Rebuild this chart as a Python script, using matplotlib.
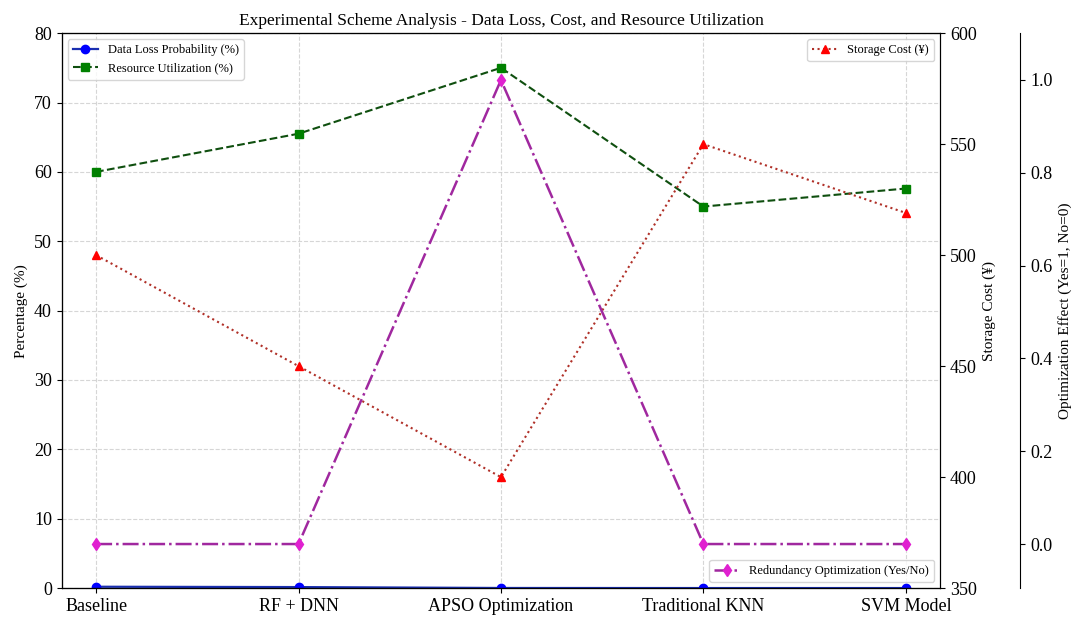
import numpy as np
import matplotlib
matplotlib.use("Agg")
import matplotlib.pyplot as plt

plt.rcParams['font.family'] = ['Liberation Serif', 'DejaVu Serif']

schemes = ['Baseline', 'RF + DNN', 'APSO Optimization', 'Traditional KNN', 'SVM Model']
data_loss = [0.2, 0.15, 0.02, 0.01, 0.01]
resource_util = [60, 65.5, 75, 55, 57.6]
storage_cost = [500, 450, 400, 550, 519]
redundancy = [0, 0, 1, 0, 0]

x = np.arange(len(schemes))

fig = plt.figure(figsize=(10.82, 6.25), dpi=100)
ax1 = fig.add_axes([0.057, 0.059, 0.812, 0.888])

ax1.plot(x, data_loss, 'o-', color='#1a2fb0', markerfacecolor='blue',
         markeredgecolor='blue', markersize=6, linewidth=1.6, label='Data Loss Probability (%)')
ax1.plot(x, resource_util, 's--', color='#0f4f0f', markerfacecolor='green',
         markeredgecolor='green', markersize=6, linewidth=1.5, label='Resource Utilization (%)')
ax1.set_ylim(0, 80)
ax1.set_xlim(-0.17, 4.17)
ax1.set_ylabel('Percentage (%)', fontsize=11)
ax1.set_xticks(x)
ax1.set_xticklabels(schemes, fontsize=13)
ax1.tick_params(axis='y', labelsize=13)
ax1.grid(True, linestyle='--', color='#cccccc', alpha=0.8)
ax1.legend(loc='upper left', fontsize=9)
ax1.set_title('Experimental Scheme Analysis - Data Loss, Cost, and Resource Utilization', fontsize=12.5)

ax2 = ax1.twinx()
ax2.plot(x, storage_cost, '^:', color='#b03028', markerfacecolor='red',
         markeredgecolor='red', markersize=6, linewidth=1.5, label='Storage Cost (¥)')
ax2.set_ylim(350, 600)
ax2.set_ylabel('Storage Cost (¥)', fontsize=11)
ax2.tick_params(axis='y', labelsize=13)
ax2.legend(loc='upper right', fontsize=9)

ax3 = ax1.twinx()
ax3.spines['right'].set_position(('axes', 1.091))
ax3.plot(x, redundancy, 'd-.', color='#a0289f', markerfacecolor='#e020d0',
         markeredgecolor='#e020d0', markersize=6, linewidth=1.8,
         label='Redundancy Optimization (Yes/No)')
ax3.set_ylim(-0.095, 1.101)
ax3.set_ylabel('Optimization Effect (Yes=1, No=0)', fontsize=11)
ax3.tick_params(axis='y', labelsize=13)
ax3.legend(loc='lower right', fontsize=9)

fig.savefig('out.png', dpi=100)
